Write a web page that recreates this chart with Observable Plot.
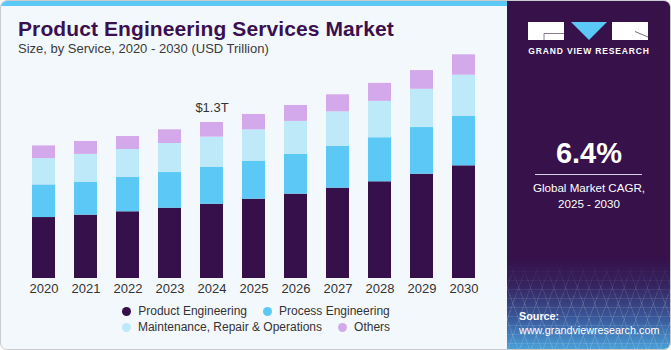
<!DOCTYPE html>
<html>
<head>
<meta charset="utf-8">
<script src="https://cdn.jsdelivr.net/npm/d3@7"></script>
<script src="https://cdn.jsdelivr.net/npm/@observablehq/plot@0.6"></script>
<style>
  html, body { margin: 0; padding: 0; background: #ffffff; }
  #wrap { position: relative; width: 671px; height: 350px; overflow: hidden; font-family: "Liberation Sans", Arial, sans-serif; }
  #card { position: absolute; left: 0; top: 0; width: 669px; height: 348px; border: 1px solid #c9cbce; border-radius: 7px; background: #f3f8fc; overflow: hidden; }
  #stripe { position: absolute; left: 0; top: 0; width: 506px; height: 5px; background: #5bc8f5; }
  #title { position: absolute; left: 17px; top: 16px; font-size: 21px; font-weight: bold; color: #3a1050; white-space: nowrap; letter-spacing: 0.1px; }
  #subtitle { position: absolute; left: 17px; top: 40px; font-size: 13px; color: #3a3a3a; white-space: nowrap; }
  #chart { position: absolute; left: 0; top: 45px; }
  .legrow { position: absolute; left: 55px; width: 400px; display: flex; justify-content: center; align-items: center; font-size: 12px; color: #333; white-space: nowrap; }
  .item { display: flex; align-items: center; margin: 0 8px; }
  .dot { width: 9px; height: 9px; border-radius: 50%; margin-right: 7px; }
  #panel { position: absolute; left: 506px; top: 0; width: 164px; height: 349px;
    background: linear-gradient(to bottom, #36114a 0px, #36114a 258px, #352460 285px, #3a5a9c 318px, #4aa2da 349px); overflow: hidden; }
  #grid { position: absolute; left: 0; top: 262px; width: 164px; height: 90px;
    background:
      repeating-linear-gradient(70deg, rgba(255,255,255,0.13) 0 1px, transparent 1px 11px),
      repeating-linear-gradient(-70deg, rgba(255,255,255,0.13) 0 1px, transparent 1px 11px),
      repeating-linear-gradient(0deg, rgba(255,255,255,0.10) 0 1px, transparent 1px 9px);
    -webkit-mask-image: linear-gradient(to bottom, transparent 0, black 40px);
    mask-image: linear-gradient(to bottom, transparent 0, black 40px); }
  #brand { position: absolute; left: 0; top: 45px; width: 164px; text-align: center; font-size: 8.5px; font-weight: bold; letter-spacing: 0.85px; color: #ffffff; }
  #cagr { position: absolute; left: 0; top: 136px; width: 164px; text-align: center; font-size: 29px; font-weight: bold; color: #ffffff; }
  #rule { position: absolute; left: 28px; top: 173px; width: 107px; height: 1px; background: #d8cfe0; }
  #cagrtxt { position: absolute; left: 0; top: 179px; width: 164px; text-align: center; font-size: 11.6px; line-height: 15.5px; color: #ffffff; }
  #source { position: absolute; left: 12px; top: 308px; font-size: 10.8px; line-height: 14px; color: #ffffff; white-space: nowrap; }
</style>
</head>
<body>
<div id="wrap">
  <div id="card">
    <div id="stripe"></div>
    <div id="title"></div>
    <div id="subtitle"></div>
    <div id="chart"></div>
    <div id="leg1" class="legrow" style="top:303px;"></div>
    <div id="leg2" class="legrow" style="top:319px;"></div>
    <div id="panel">
      <div id="grid"></div>
      <svg id="logo" width="164" height="45" style="position:absolute;left:0;top:0;">
        <rect x="21" y="21" width="36" height="18" fill="#ffffff"></rect>
        <polyline points="37,39 37,32.5 57,32.5" fill="none" stroke="#6a5a7a" stroke-width="0.8"></polyline>
        <polygon points="64,21 100,21 82,39" fill="#5bc8f5"></polygon>
        <rect x="105" y="21" width="36" height="18" fill="#ffffff"></rect>
        <line x1="128" y1="30.5" x2="141" y2="36" stroke="#6a5a7a" stroke-width="0.9"></line>
      </svg>
      <div id="brand"></div>
      <div id="cagr"></div>
      <div id="rule"></div>
      <div id="cagrtxt"></div>
      <div id="source"></div>
    </div>
  </div>
</div>
<script>
const titleText = "Product Engineering Services Market";
const subtitleText = "Size, by Service, 2020 - 2030 (USD Trillion)";
const years = [2020, 2021, 2022, 2023, 2024, 2025, 2026, 2027, 2028, 2029, 2030];
const series = ["Product Engineering", "Process Engineering", "Maintenance, Repair & Operations", "Others"];
const productEngineering = [0.508, 0.528, 0.556, 0.586, 0.619, 0.661, 0.703, 0.753, 0.806, 0.869, 0.939];
const processEngineering = [0.272, 0.275, 0.286, 0.297, 0.306, 0.317, 0.331, 0.347, 0.367, 0.389, 0.411];
const maintenanceRepairOps = [0.219, 0.231, 0.233, 0.242, 0.253, 0.261, 0.275, 0.289, 0.303, 0.319, 0.344];
const others = [0.106, 0.108, 0.108, 0.114, 0.122, 0.128, 0.133, 0.142, 0.150, 0.156, 0.170];
const colors = ["#36104a", "#5bc8f5", "#bde9f9", "#d4a9eb"];
const annotationYear = 2024;
const annotationLabel = "$1.3T";
const legendRows = [[0, 1], [2, 3]];
const brandText = "GRAND VIEW RESEARCH";
const cagrValue = "6.4%";
const cagrLines = ["Global Market CAGR,", "2025 - 2030"];
const sourceLines = ["Source:", "www.grandviewresearch.com"];

document.getElementById("title").textContent = titleText;
document.getElementById("subtitle").textContent = subtitleText;
document.getElementById("brand").textContent = brandText;
document.getElementById("cagr").textContent = cagrValue;
document.getElementById("cagrtxt").innerHTML = cagrLines.join("<br>");
document.getElementById("source").innerHTML = "<b>" + sourceLines[0] + "</b><br>" + sourceLines[1];

const seriesValues = [productEngineering, processEngineering, maintenanceRepairOps, others];
const table = [];
years.forEach((yr, i) => {
  series.forEach((s, j) => table.push({ year: yr, series: s, value: seriesValues[j][i] }));
});
const ai = years.indexOf(annotationYear);
const annotation = [{ year: annotationYear, total: d3.sum(seriesValues, v => v[ai]), label: annotationLabel }];

const chart = Plot.plot({
  width: 500,
  height: 255,
  marginLeft: 21.5,
  marginRight: 16.5,
  marginTop: 4,
  marginBottom: 23,
  style: { background: "transparent", fontFamily: "Liberation Sans, Arial, sans-serif", fontSize: "13px", color: "#333", overflow: "visible" },
  x: { type: "band", domain: years, paddingInner: 0.452, paddingOuter: 0.226, label: null },
  y: { domain: [0, 1.9], axis: null },
  color: { domain: series, range: colors },
  marks: [
    Plot.barY(table, { x: "year", y: "value", fill: "series", order: series }),
    Plot.axisX({ tickSize: 0, tickPadding: 5, fontSize: 13, fill: "#333", tickFormat: d => String(d) }),
    Plot.text(annotation, { x: "year", y: "total", text: "label", dy: -15, fontSize: 13, fill: "#333", lineAnchor: "middle" })
  ]
});
document.getElementById("chart").appendChild(chart);

legendRows.forEach((row, r) => {
  const el = document.getElementById("leg" + (r + 1));
  row.forEach(j => {
    const item = document.createElement("div");
    item.className = "item";
    const dot = document.createElement("div");
    dot.className = "dot";
    dot.style.background = colors[j];
    const lab = document.createElement("span");
    lab.textContent = series[j];
    item.appendChild(dot);
    item.appendChild(lab);
    el.appendChild(item);
  });
});
</script>
</body>
</html>
